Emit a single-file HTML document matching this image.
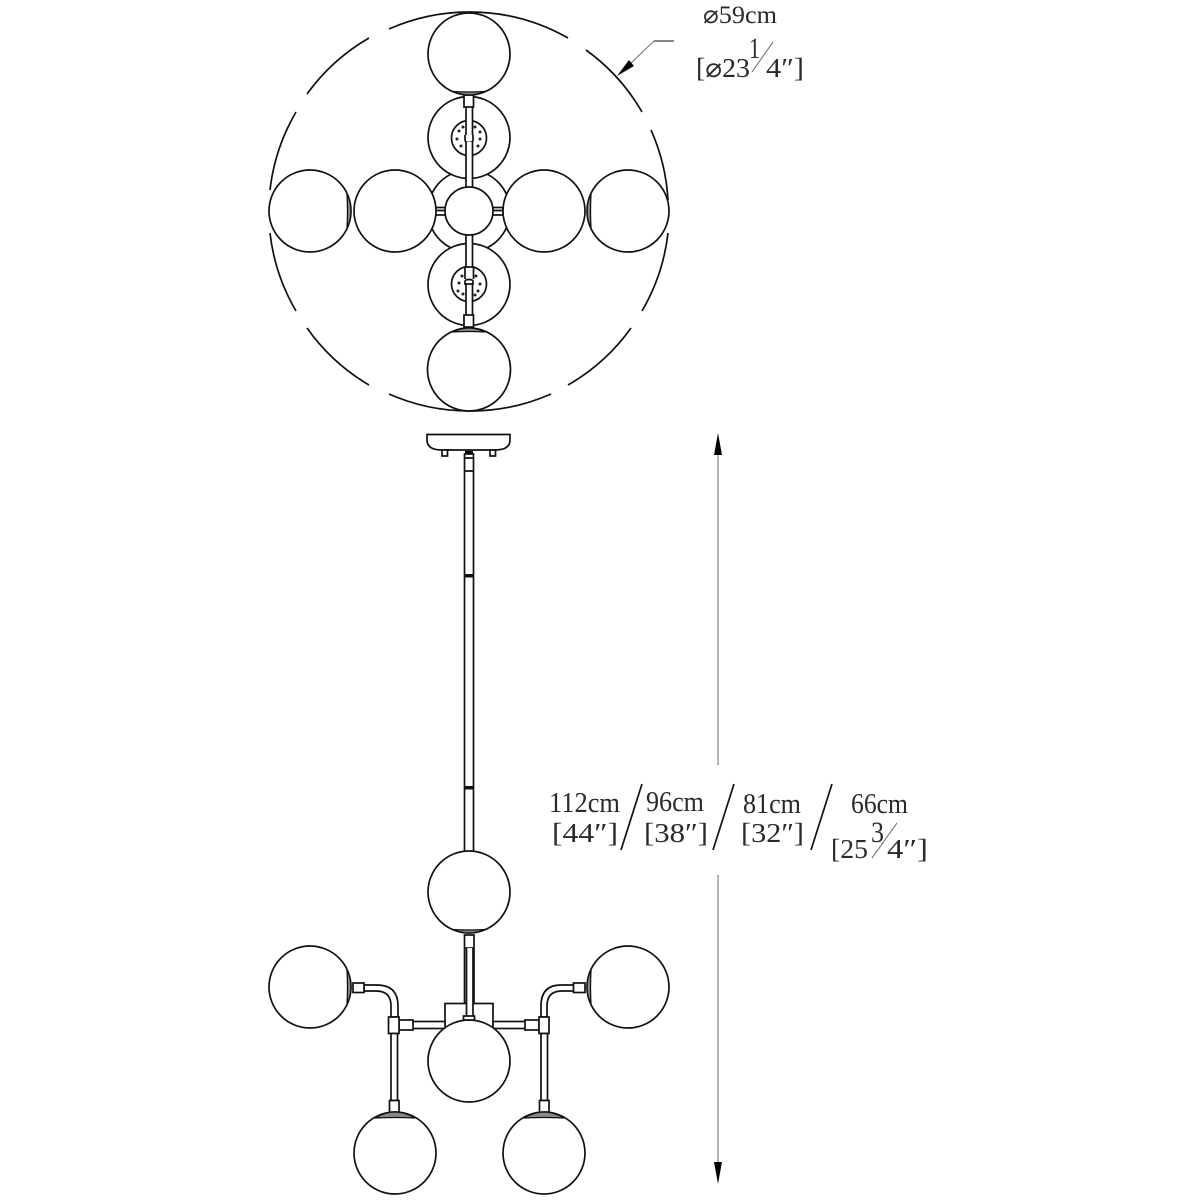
<!DOCTYPE html>
<html>
<head>
<meta charset="utf-8">
<style>
html,body{margin:0;padding:0;background:#fff;width:1200px;height:1200px;overflow:hidden}
svg{display:block}
text{font-family:"Liberation Serif","DejaVu Serif",serif;fill:#2a2a2a;font-size:28px}
.s{fill:#fff;stroke:#111;stroke-width:1.7}
.n{fill:none;stroke:#111;stroke-width:1.7}
.t{stroke:#777;stroke-width:1.1;fill:none}
.d{fill:#222}
.c{fill:#888;stroke:#111;stroke-width:1.3}
</style>
</head>
<body>
<svg width="1200" height="1200" viewBox="0 0 1200 1200" xmlns="http://www.w3.org/2000/svg">
<!-- outer dashed circle -->
<g class="n">
<path d="M270 190A199.500 199.500 0 0 1 296 112"/>
<path d="M307 94A199.500 199.500 0 0 1 369 38"/>
<path d="M389 29A199.500 199.500 0 0 1 469 12"/>
<path d="M469 12A199.500 199.500 0 0 1 568 38"/>
<path d="M586 50A199.500 199.500 0 0 1 642 112"/>
<path d="M651 130A199.500 199.500 0 0 1 668 200"/>
<path d="M668 233A199.500 199.500 0 0 1 642 311"/>
<path d="M631 328A199.500 199.500 0 0 1 568 385"/>
<path d="M551 394A199.500 199.500 0 0 1 469 411"/>
<path d="M469 411A199.500 199.500 0 0 1 389 394"/>
<path d="M369 385A199.500 199.500 0 0 1 307 328"/>
<path d="M296 311A199.500 199.500 0 0 1 270 233"/>
</g>
<!-- plan view -->
<circle class="s" cx="469" cy="211" r="41"/>
<circle class="s" cx="469" cy="137.500" r="41"/>
<circle class="s" cx="469" cy="284.500" r="41"/>
<circle class="s" cx="469" cy="138" r="17.500"/>
<circle class="s" cx="469" cy="284" r="17.500"/>
<g class="d">
<circle cx="459" cy="131" r="1.500"/><circle cx="463" cy="127" r="1.500"/><circle cx="475" cy="127" r="1.500"/><circle cx="480" cy="132" r="1.500"/><circle cx="457" cy="139" r="1.500"/><circle cx="480" cy="139" r="1.500"/><circle cx="461" cy="146" r="1.500"/><circle cx="478" cy="146" r="1.500"/>
<circle cx="462" cy="276" r="1.500"/><circle cx="476" cy="276" r="1.500"/><circle cx="459" cy="283" r="1.500"/><circle cx="480" cy="284" r="1.500"/><circle cx="458" cy="291" r="1.500"/><circle cx="478" cy="291" r="1.500"/><circle cx="463" cy="294" r="1.500"/><circle cx="475" cy="295" r="1.500"/>
</g>
<!-- upper stem -->
<path class="s" d="M466 107V136H472.500V107"/>
<path class="s" d="M465 135V140Q465 142.500 469 142.500Q473 142.500 473 140V135"/>
<path class="s" d="M466 142V188H472.500V142"/>
<rect class="s" x="464" y="95" width="9.500" height="12"/>
<!-- lower stem -->
<path class="s" d="M466 234V268H472.500V234"/>
<path class="s" d="M465 279V267H473.500V279"/>
<path class="s" d="M465 285V281.500Q465 279.500 469 279.500Q473 279.500 473 281.500V285"/>
<path class="s" d="M466 316V284H472.500V316"/>
<!-- lateral connectors -->
<rect class="s" x="435" y="207.500" width="11" height="7.500"/>
<rect class="s" x="492" y="207.500" width="11" height="7.500"/>
<path class="n" d="M435 210.500H446M492 210.500H503"/>
<circle class="s" cx="469" cy="211" r="24"/>
<!-- spheres -->
<circle class="s" cx="469" cy="54" r="41"/>
<path class="c" d="M453 91.500Q469 92.500 485 91.500Q477 95 469 95Q461 95 453 91.500Z"/>
<circle class="s" cx="310" cy="211" r="41"/>
<path class="c" d="M347 194Q348 211 347 228Q351 220 351 211Q351 202 347 194Z"/>
<circle class="s" cx="395" cy="211" r="41"/>
<circle class="s" cx="544" cy="211" r="41"/>
<circle class="s" cx="628" cy="211" r="41"/>
<path class="c" d="M591 194Q590 211 591 228Q587 220 587 211Q587 202 591 194Z"/>
<circle class="s" cx="469" cy="369.500" r="41.500"/>
<path class="c" d="M453 332Q469 331 485 332Q477 328 469 328Q461 328 453 332Z"/>
<rect class="s" x="464" y="315" width="9.500" height="12"/>
<!-- leader for diameter -->
<path class="t" d="M654 41L630 64"/>
<path class="n" style="stroke-width:1.100" d="M654 41H674"/>
<path d="M617 76L629 60L634 66Z" fill="#000"/>
<!-- texts top -->
<text x="703" y="23" style="font-size:25px" textLength="74" lengthAdjust="spacingAndGlyphs">⌀59cm</text>
<text x="696" y="77" style="font-size:27px" textLength="54" lengthAdjust="spacingAndGlyphs">[⌀23</text>
<text x="749" y="58" style="font-size:30px" textLength="11" lengthAdjust="spacingAndGlyphs">1</text>
<path class="t" d="M773 42L752 72"/>
<text x="766" y="77" style="font-size:27px" textLength="38" lengthAdjust="spacingAndGlyphs">4″]</text>
<!-- canopy -->
<path class="s" d="M427 434.500H510V440Q510 450 495 450H442Q427 450 427 440Z"/>
<rect class="s" x="442" y="450" width="5.500" height="6"/>
<rect class="s" x="490" y="450" width="5.500" height="6"/>
<rect x="465" y="451" width="8" height="3" fill="#000"/>
<!-- rod -->
<rect class="s" x="464.500" y="454" width="9" height="400"/>
<path class="n" d="M464.500 458H473.500M464.500 471H473.500"/>
<rect x="464" y="574" width="10" height="3.500" fill="#111"/>
<rect x="464" y="786" width="10" height="3.500" fill="#111"/>
<!-- lower center -->
<rect class="s" x="445" y="1003.500" width="48" height="28"/>
<rect class="s" x="464.500" y="935" width="9.500" height="68"/>
<path class="n" d="M464.500 948H474"/>
<path class="s" d="M466.500 948V1018H473V948"/>
<circle class="s" cx="469" cy="892" r="41"/>
<path class="c" d="M453 929.500Q469 930.500 485 929.500Q477 933 469 933Q461 933 453 929.500Z"/>
<!-- arms -->
<rect class="s" x="412" y="1021.500" width="33" height="7"/>
<rect class="s" x="493" y="1021.500" width="33" height="7"/>
<rect class="s" x="399" y="1020" width="14" height="10"/>
<rect class="s" x="525" y="1020" width="14" height="10"/>
<!-- elbows -->
<path class="s" d="M364 985H377Q398 985 398 1006V1017H391V1006Q391 991 376 991H364Z"/>
<path class="s" d="M574 985H561Q541 985 541 1006V1017H547V1006Q547 991 562 991H574Z"/>
<rect class="s" x="353" y="983" width="11" height="9.500"/>
<rect class="s" x="573.500" y="983" width="11.500" height="9.500"/>
<rect class="s" x="388.500" y="1017" width="10.500" height="16.500"/>
<rect class="s" x="539" y="1017" width="10" height="16.500"/>
<!-- lower verticals -->
<rect class="s" x="391" y="1033.500" width="6.500" height="67"/>
<rect class="s" x="541" y="1033.500" width="6.500" height="67"/>
<rect class="s" x="389.500" y="1100.500" width="9.500" height="12"/>
<rect class="s" x="539.500" y="1100.500" width="9.500" height="12"/>
<!-- lower spheres -->
<circle class="s" cx="469" cy="1061" r="41"/>
<rect class="s" x="463.500" y="1016" width="11" height="4"/>
<circle class="s" cx="310" cy="987" r="41"/>
<path class="c" d="M347 970Q348 987 347 1004Q351 996 351 987Q351 978 347 970Z"/>
<circle class="s" cx="628" cy="987" r="41"/>
<path class="c" d="M591 970Q590 987 591 1004Q587 996 587 987Q587 978 591 970Z"/>
<circle class="s" cx="395" cy="1153" r="41"/>
<path class="c" d="M375 1118Q395 1117 415 1118Q405 1112 395 1112Q385 1112 375 1118Z"/>
<circle class="s" cx="544" cy="1153" r="41"/>
<path class="c" d="M524 1118Q544 1117 564 1118Q554 1112 544 1112Q534 1112 524 1118Z"/>
<!-- dimension line -->
<path class="t" d="M718 450V765M718 875V1168"/>
<path d="M718 433L714 455H722Z" fill="#000"/>
<path d="M718 1184L714 1162H722Z" fill="#000"/>
<!-- height labels -->
<text x="549" y="812" textLength="71" lengthAdjust="spacingAndGlyphs">112cm</text>
<text x="552" y="842" style="font-size:27px" textLength="66" lengthAdjust="spacingAndGlyphs">[44″]</text>
<path class="n" d="M642 784L621 850"/>
<text x="646" y="811" textLength="58" lengthAdjust="spacingAndGlyphs">96cm</text>
<text x="644" y="842" style="font-size:27px" textLength="64" lengthAdjust="spacingAndGlyphs">[38″]</text>
<path class="n" d="M734 784L713 850"/>
<text x="743" y="813" textLength="58" lengthAdjust="spacingAndGlyphs">81cm</text>
<text x="741" y="842" style="font-size:27px" textLength="63" lengthAdjust="spacingAndGlyphs">[32″]</text>
<path class="n" d="M832 784L811 850"/>
<text x="851" y="813" textLength="57" lengthAdjust="spacingAndGlyphs">66cm</text>
<text x="831" y="858" style="font-size:27px" textLength="37" lengthAdjust="spacingAndGlyphs">[25</text>
<text x="871" y="842" style="font-size:30px" textLength="13" lengthAdjust="spacingAndGlyphs">3</text>
<path class="t" d="M897 823L872 858"/>
<text x="887" y="858" style="font-size:27px" textLength="41" lengthAdjust="spacingAndGlyphs">4″]</text>
</svg>
</body>
</html>
